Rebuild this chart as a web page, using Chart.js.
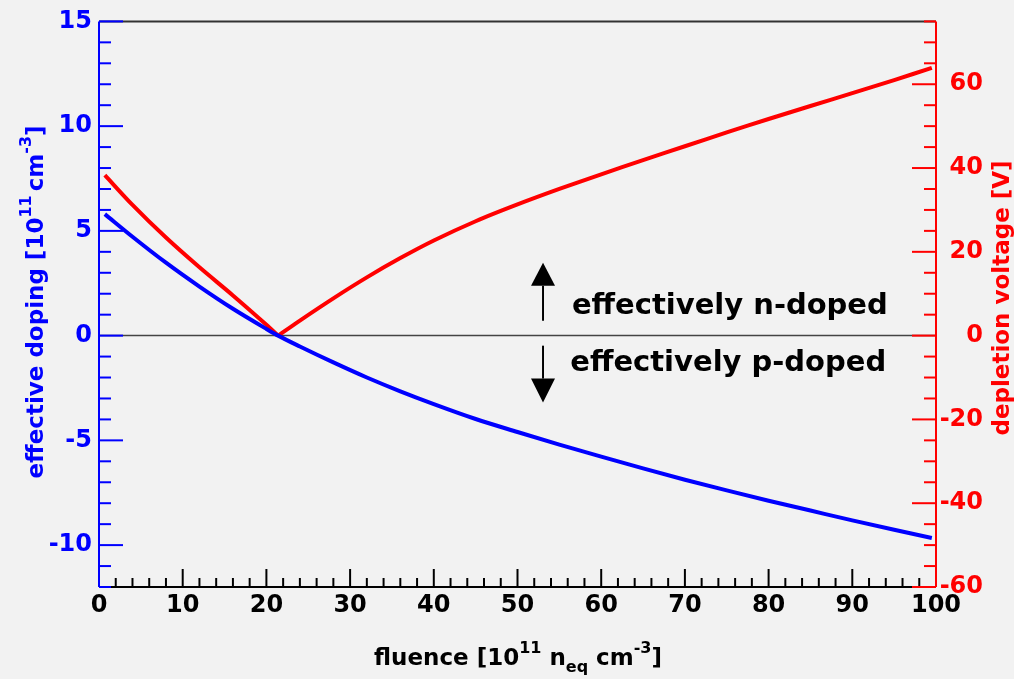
<!DOCTYPE html>
<html>
<head>
<meta charset="utf-8">
<script src="https://cdn.jsdelivr.net/npm/chart.js@4.4.0/dist/chart.umd.min.js"></script>
<style>
  html, body { margin: 0; padding: 0; background: #f2f2f2; }
  #wrap { width: 1014px; height: 679px; }
</style>
</head>
<body>
<div id="wrap"><canvas id="chart"></canvas></div>
<script>
// fluence [1e11 neq/cm3]
const fluence = [0.7, 4, 8, 12, 16, 20, 21.4, 24, 28, 32, 36, 40, 45, 50, 55, 60, 65, 70, 75, 80, 85, 90, 95, 99.5];
// effective doping [1e11 cm-3] (left axis)
const doping = [5.80, 4.72, 3.48, 2.34, 1.28, 0.32, 0.0, -0.52, -1.28, -2.0, -2.66, -3.27, -3.98, -4.60, -5.20, -5.78, -6.34, -6.88, -7.39, -7.88, -8.35, -8.82, -9.27, -9.66];
// depletion voltage [V] (right axis)
const voltage = [38.3, 31.2, 23.4, 16.3, 9.6, 2.6, 0.0, 3.6, 8.9, 13.9, 18.5, 22.7, 27.3, 31.3, 35.0, 38.5, 41.9, 45.2, 48.5, 51.7, 54.8, 57.9, 61.0, 63.9];

const xTicks = [0, 10, 20, 30, 40, 50, 60, 70, 80, 90, 100];
const leftTicks = [-10, -5, 0, 5, 10, 15];
const rightTicks = [-60, -40, -20, 0, 20, 40, 60];

const FONT = 'DejaVu Sans';
const BLUE = '#0000ff';
const RED = '#ff0000';

const toPoints = (ys) => fluence.map((f, i) => ({ x: f, y: ys[i] }));
// the voltage curve has a sharp kink at its minimum, so split it there
const vMin = voltage.indexOf(Math.min(...voltage));
const voltagePts = toPoints(voltage);

// draws text with sup/sub parts, centred on 0 along the baseline
function drawRich(ctx, parts, color) {
  const big = 'bold 23px ' + FONT;
  const small = 'bold 16px ' + FONT;
  let total = 0;
  parts.forEach(p => {
    ctx.font = p.k ? small : big;
    p.w = ctx.measureText(p.t).width + (p.gap || 0);
    total += p.w;
  });
  let cx = -total / 2;
  ctx.fillStyle = color;
  ctx.textBaseline = 'alphabetic';
  ctx.textAlign = 'left';
  parts.forEach(p => {
    ctx.font = p.k ? small : big;
    const dy = p.k === 'sup' ? -12 : p.k === 'sub' ? 7 : 0;
    ctx.fillText(p.t, cx, dy);
    cx += p.w;
  });
}

const rootFrame = {
  id: 'rootFrame',
  beforeDatasetsDraw(chart) {
    const { ctx, chartArea: a, scales: { y } } = chart;
    const y0 = y.getPixelForValue(0);
    ctx.save();
    ctx.strokeStyle = '#444';
    ctx.lineWidth = 1.5;
    ctx.beginPath();
    ctx.moveTo(a.left, y0);
    ctx.lineTo(a.right, y0);
    ctx.stroke();
    ctx.restore();
  },
  afterDatasetsDraw(chart) {
    const { ctx, chartArea: a, scales: { x, y, y1 } } = chart;
    const line = (x0, y0, x1, y1_) => {
      ctx.beginPath();
      ctx.moveTo(x0, y0);
      ctx.lineTo(x1, y1_);
      ctx.stroke();
    };
    ctx.save();
    ctx.lineWidth = 2;
    ctx.strokeStyle = '#333';
    line(a.left, a.top, a.right, a.top);
    ctx.strokeStyle = '#000';
    line(a.left, a.bottom, a.right, a.bottom);
    for (let v = 0; v <= 100; v += 2) {
      const px = x.getPixelForValue(v);
      line(px, a.bottom, px, a.bottom - (v % 10 === 0 ? 18 : 9));
    }
    // left axis
    ctx.strokeStyle = BLUE;
    line(a.left, a.top, a.left, a.bottom);
    for (let v = -12; v <= 15; v++) {
      const py = y.getPixelForValue(v);
      line(a.left, py, a.left + (v % 5 === 0 ? 24 : 12), py);
    }
    // right axis
    ctx.strokeStyle = RED;
    line(a.right, a.top, a.right, a.bottom);
    for (let v = -60; v <= 75; v += 5) {
      const py = y1.getPixelForValue(v);
      line(a.right, py, a.right - (v % 20 === 0 ? 24 : 12), py);
    }

    // arrows
    ctx.strokeStyle = '#000';
    ctx.fillStyle = '#000';
    ctx.lineWidth = 2;
    const ax = x.getPixelForValue(53.05);
    const arrow = (from, base, tip) => {
      const pf = y.getPixelForValue(from), pb = y.getPixelForValue(base), pt = y.getPixelForValue(tip);
      line(ax, pf, ax, pb);
      ctx.beginPath();
      ctx.moveTo(ax - 12, pb);
      ctx.lineTo(ax + 12, pb);
      ctx.lineTo(ax, pt);
      ctx.closePath();
      ctx.fill();
    };
    arrow(0.71, 2.38, 3.48);
    arrow(-0.48, -2.05, -3.19);

    ctx.font = 'bold 29px ' + FONT;
    ctx.textAlign = 'left';
    ctx.textBaseline = 'alphabetic';
    ctx.fillText('effectively n-doped', x.getPixelForValue(56.5), y.getPixelForValue(1.05));
    ctx.fillText('effectively p-doped', x.getPixelForValue(56.3), y.getPixelForValue(-1.67));
    ctx.restore();
  },
  afterDraw(chart) {
    const { ctx } = chart;
    // x title
    ctx.save();
    ctx.translate(518, 665);
    drawRich(ctx, [
      { t: 'fluence [10' }, { t: '11', k: 'sup' }, { t: ' n' }, { t: 'eq', k: 'sub' },
      { t: ' cm' }, { t: '-3', k: 'sup' }, { t: ']' }
    ], '#000');
    ctx.restore();
    // left title
    ctx.save();
    ctx.translate(43, 302);
    ctx.rotate(-Math.PI / 2);
    drawRich(ctx, [
      { t: 'effective doping [10' }, { t: '11', k: 'sup', gap: 4 }, { t: 'cm' }, { t: '-3', k: 'sup' }, { t: ']' }
    ], BLUE);
    ctx.restore();
    // right title
    ctx.save();
    ctx.translate(1009, 298);
    ctx.rotate(-Math.PI / 2);
    drawRich(ctx, [{ t: 'depletion voltage [V]' }], RED);
    ctx.restore();
  }
};

const tickFont = { family: FONT, weight: 'bold', size: 24 };
const lineStyle = { borderWidth: 4, pointRadius: 0, fill: false };

new Chart(document.getElementById('chart'), {
  type: 'line',
  data: {
    datasets: [
      {
        label: 'effective doping',
        data: toPoints(doping),
        yAxisID: 'y',
        borderColor: BLUE,
        cubicInterpolationMode: 'monotone',
        ...lineStyle
      },
      {
        label: 'depletion voltage',
        data: voltagePts.slice(0, vMin + 1),
        yAxisID: 'y1',
        borderColor: RED,
        tension: 0.3,
        ...lineStyle
      },
      {
        label: 'depletion voltage ',
        data: voltagePts.slice(vMin),
        yAxisID: 'y1',
        borderColor: RED,
        tension: 0.3,
        ...lineStyle
      }
    ]
  },
  options: {
    responsive: true,
    maintainAspectRatio: false,
    animation: false,
    devicePixelRatio: 1,
    layout: { padding: { top: 20, left: 0, right: 31, bottom: 0 } },
    plugins: { legend: { display: false }, tooltip: { enabled: false } },
    scales: {
      x: {
        type: 'linear',
        position: 'bottom',
        min: 0,
        max: 100,
        grid: { display: false, drawTicks: false },
        border: { display: false },
        ticks: { font: tickFont, color: '#000', padding: 4, maxRotation: 0, autoSkip: false },
        afterBuildTicks: (s) => { s.ticks = xTicks.map(v => ({ value: v })); },
        afterFit: (s) => { s.height = 92; }
      },
      y: {
        type: 'linear',
        position: 'left',
        min: -12,
        max: 15,
        grid: { display: false, drawTicks: false },
        border: { display: false },
        ticks: { font: tickFont, color: BLUE, padding: 7, autoSkip: false },
        afterBuildTicks: (s) => { s.ticks = leftTicks.map(v => ({ value: v })); },
        afterFit: (s) => { s.width = 99; }
      },
      y1: {
        type: 'linear',
        position: 'right',
        min: -60,
        max: 75,
        grid: { display: false, drawTicks: false },
        border: { display: false },
        ticks: { font: tickFont, color: RED, padding: 4, crossAlign: 'far', autoSkip: false },
        afterBuildTicks: (s) => { s.ticks = rightTicks.map(v => ({ value: v })); },
        afterFit: (s) => { s.width = 47; }
      }
    }
  },
  plugins: [rootFrame]
});
</script>
</body>
</html>
